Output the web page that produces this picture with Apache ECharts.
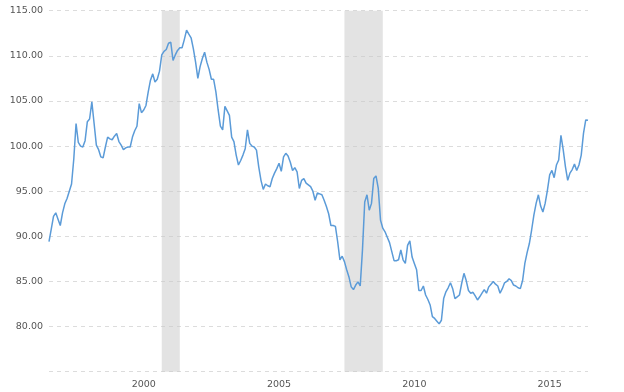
<!DOCTYPE html>
<html>
<head>
<meta charset="utf-8">
<script src="https://cdn.jsdelivr.net/npm/echarts@6/dist/echarts.min.js"></script>
<style>
html,body{margin:0;padding:0;background:#fff;}
#chart{width:624px;height:392px;}
</style>
</head>
<body>
<div id="chart"></div>
<script>
// Monthly values, Jan 1997 .. Dec 2016
const startYear = 1997;
const endYear = 2016;
const v1997 = [89.4, 90.8, 92.2, 92.6, 91.9, 91.2, 92.6, 93.6, 94.2, 95.0, 95.8, 98.6];
const v1998 = [102.5, 100.4, 100.0, 99.9, 100.6, 102.7, 103.0, 104.9, 102.5, 100.1, 99.6, 98.8];
const v1999 = [98.7, 99.9, 101.0, 100.8, 100.7, 101.1, 101.4, 100.5, 100.1, 99.6, 99.8, 99.9];
const v2000 = [99.9, 101.0, 101.7, 102.2, 104.7, 103.7, 104.0, 104.5, 106.0, 107.3, 108.0, 107.1];
const v2001 = [107.4, 108.3, 110.1, 110.5, 110.7, 111.4, 111.5, 109.5, 110.1, 110.6, 110.9, 110.9];
const v2002 = [111.8, 112.85, 112.4, 112.0, 110.8, 109.3, 107.5, 108.8, 109.7, 110.4, 109.3, 108.5];
const v2003 = [107.4, 107.4, 106.0, 104.0, 102.2, 101.8, 104.4, 103.9, 103.4, 101.0, 100.5, 99.0];
const v2004 = [97.9, 98.4, 99.0, 99.7, 101.8, 100.3, 100.0, 99.9, 99.55, 97.7, 96.2, 95.2];
const v2005 = [95.8, 95.6, 95.5, 96.4, 97.0, 97.5, 98.1, 97.2, 98.8, 99.2, 98.9, 98.2];
const v2006 = [97.3, 97.6, 97.15, 95.3, 96.2, 96.4, 95.9, 95.7, 95.5, 95.0, 94.0, 94.8];
const v2007 = [94.7, 94.6, 94.0, 93.3, 92.5, 91.2, 91.2, 91.1, 89.4, 87.4, 87.8, 87.2];
const v2008 = [86.3, 85.5, 84.4, 84.1, 84.6, 84.95, 84.5, 88.5, 93.8, 94.6, 92.9, 93.65];
const v2009 = [96.4, 96.7, 95.3, 91.8, 90.9, 90.5, 89.9, 89.3, 88.3, 87.3, 87.3, 87.4];
const v2010 = [88.5, 87.4, 87.0, 89.0, 89.5, 87.7, 87.0, 86.3, 84.0, 84.0, 84.5, 83.5];
const v2011 = [83.0, 82.4, 81.1, 80.9, 80.6, 80.3, 80.7, 83.1, 83.85, 84.3, 84.85, 84.2];
const v2012 = [83.1, 83.3, 83.5, 84.8, 85.9, 85.1, 84.0, 83.7, 83.8, 83.4, 82.95, 83.3];
const v2013 = [83.7, 84.1, 83.7, 84.4, 84.7, 85.0, 84.7, 84.5, 83.7, 84.2, 84.85, 85.0];
const v2014 = [85.3, 85.1, 84.6, 84.5, 84.3, 84.2, 85.1, 87.0, 88.2, 89.2, 90.7, 92.35];
const v2015 = [93.65, 94.6, 93.35, 92.7, 93.65, 95.1, 96.8, 97.3, 96.5, 97.9, 98.45, 101.2];
const v2016 = [99.6, 97.7, 96.2, 97.0, 97.4, 98.0, 97.3, 97.9, 99.0, 101.4, 102.9, 102.85];

// Recession periods (start month, end month)
const recessions = [['2001-03', '2001-11'], ['2007-12', '2009-05']];
// Year tick labels (placed mid-year as in the reference)
const labelYears = [2000, 2005, 2010, 2015];
const yTicks = [75, 80, 85, 90, 95, 100, 105, 110, 115];

const values = [].concat(v1997, v1998, v1999, v2000, v2001, v2002, v2003, v2004, v2005,
  v2006, v2007, v2008, v2009, v2010, v2011, v2012, v2013, v2014, v2015, v2016);
const months = [];
for (let y = startYear; y <= endYear; y++) {
  for (let m = 1; m <= 12; m++) months.push(y + '-' + (m < 10 ? '0' + m : '' + m));
}
const labelSet = new Set(labelYears.map(y => y + '-07'));

const chart = echarts.init(document.getElementById('chart'), null, {renderer: 'canvas'});
chart.setOption({
  animation: false,
  backgroundColor: '#ffffff',
  grid: {left: 49, right: 36, top: 10.7, bottom: 20.3, containLabel: false},
  xAxis: {
    type: 'category',
    data: months,
    boundaryGap: false,
    axisLine: {show: false},
    axisTick: {show: false},
    splitLine: {show: false},
    axisLabel: {
      interval: (i, v) => labelSet.has(v),
      formatter: v => v.slice(0, 4),
      color: '#555',
      fontFamily: 'DejaVu Sans',
      fontSize: 9.5,
      margin: 8
    }
  },
  yAxis: {
    type: 'value',
    min: yTicks[0],
    max: yTicks[yTicks.length - 1],
    interval: 5,
    axisLine: {show: false},
    axisTick: {show: false},
    axisLabel: {
      formatter: v => (v === yTicks[0] ? '' : v.toFixed(2)),
      color: '#555',
      fontFamily: 'DejaVu Sans',
      fontSize: 9.5,
      margin: 6
    },
    splitLine: {lineStyle: {color: '#dcdcdc', type: [4, 4], width: 1}}
  },
  series: [{
    type: 'line',
    data: values,
    showSymbol: false,
    smooth: false,
    lineStyle: {color: '#5b9bd8', width: 1.5},
    itemStyle: {color: '#5b9bd8'},
    markArea: {
      silent: true,
      itemStyle: {color: 'rgba(200,200,200,0.5)'},
      data: recessions.map(r => [{xAxis: r[0]}, {xAxis: r[1]}])
    },
    z: 3
  }]
});
</script>
</body>
</html>
